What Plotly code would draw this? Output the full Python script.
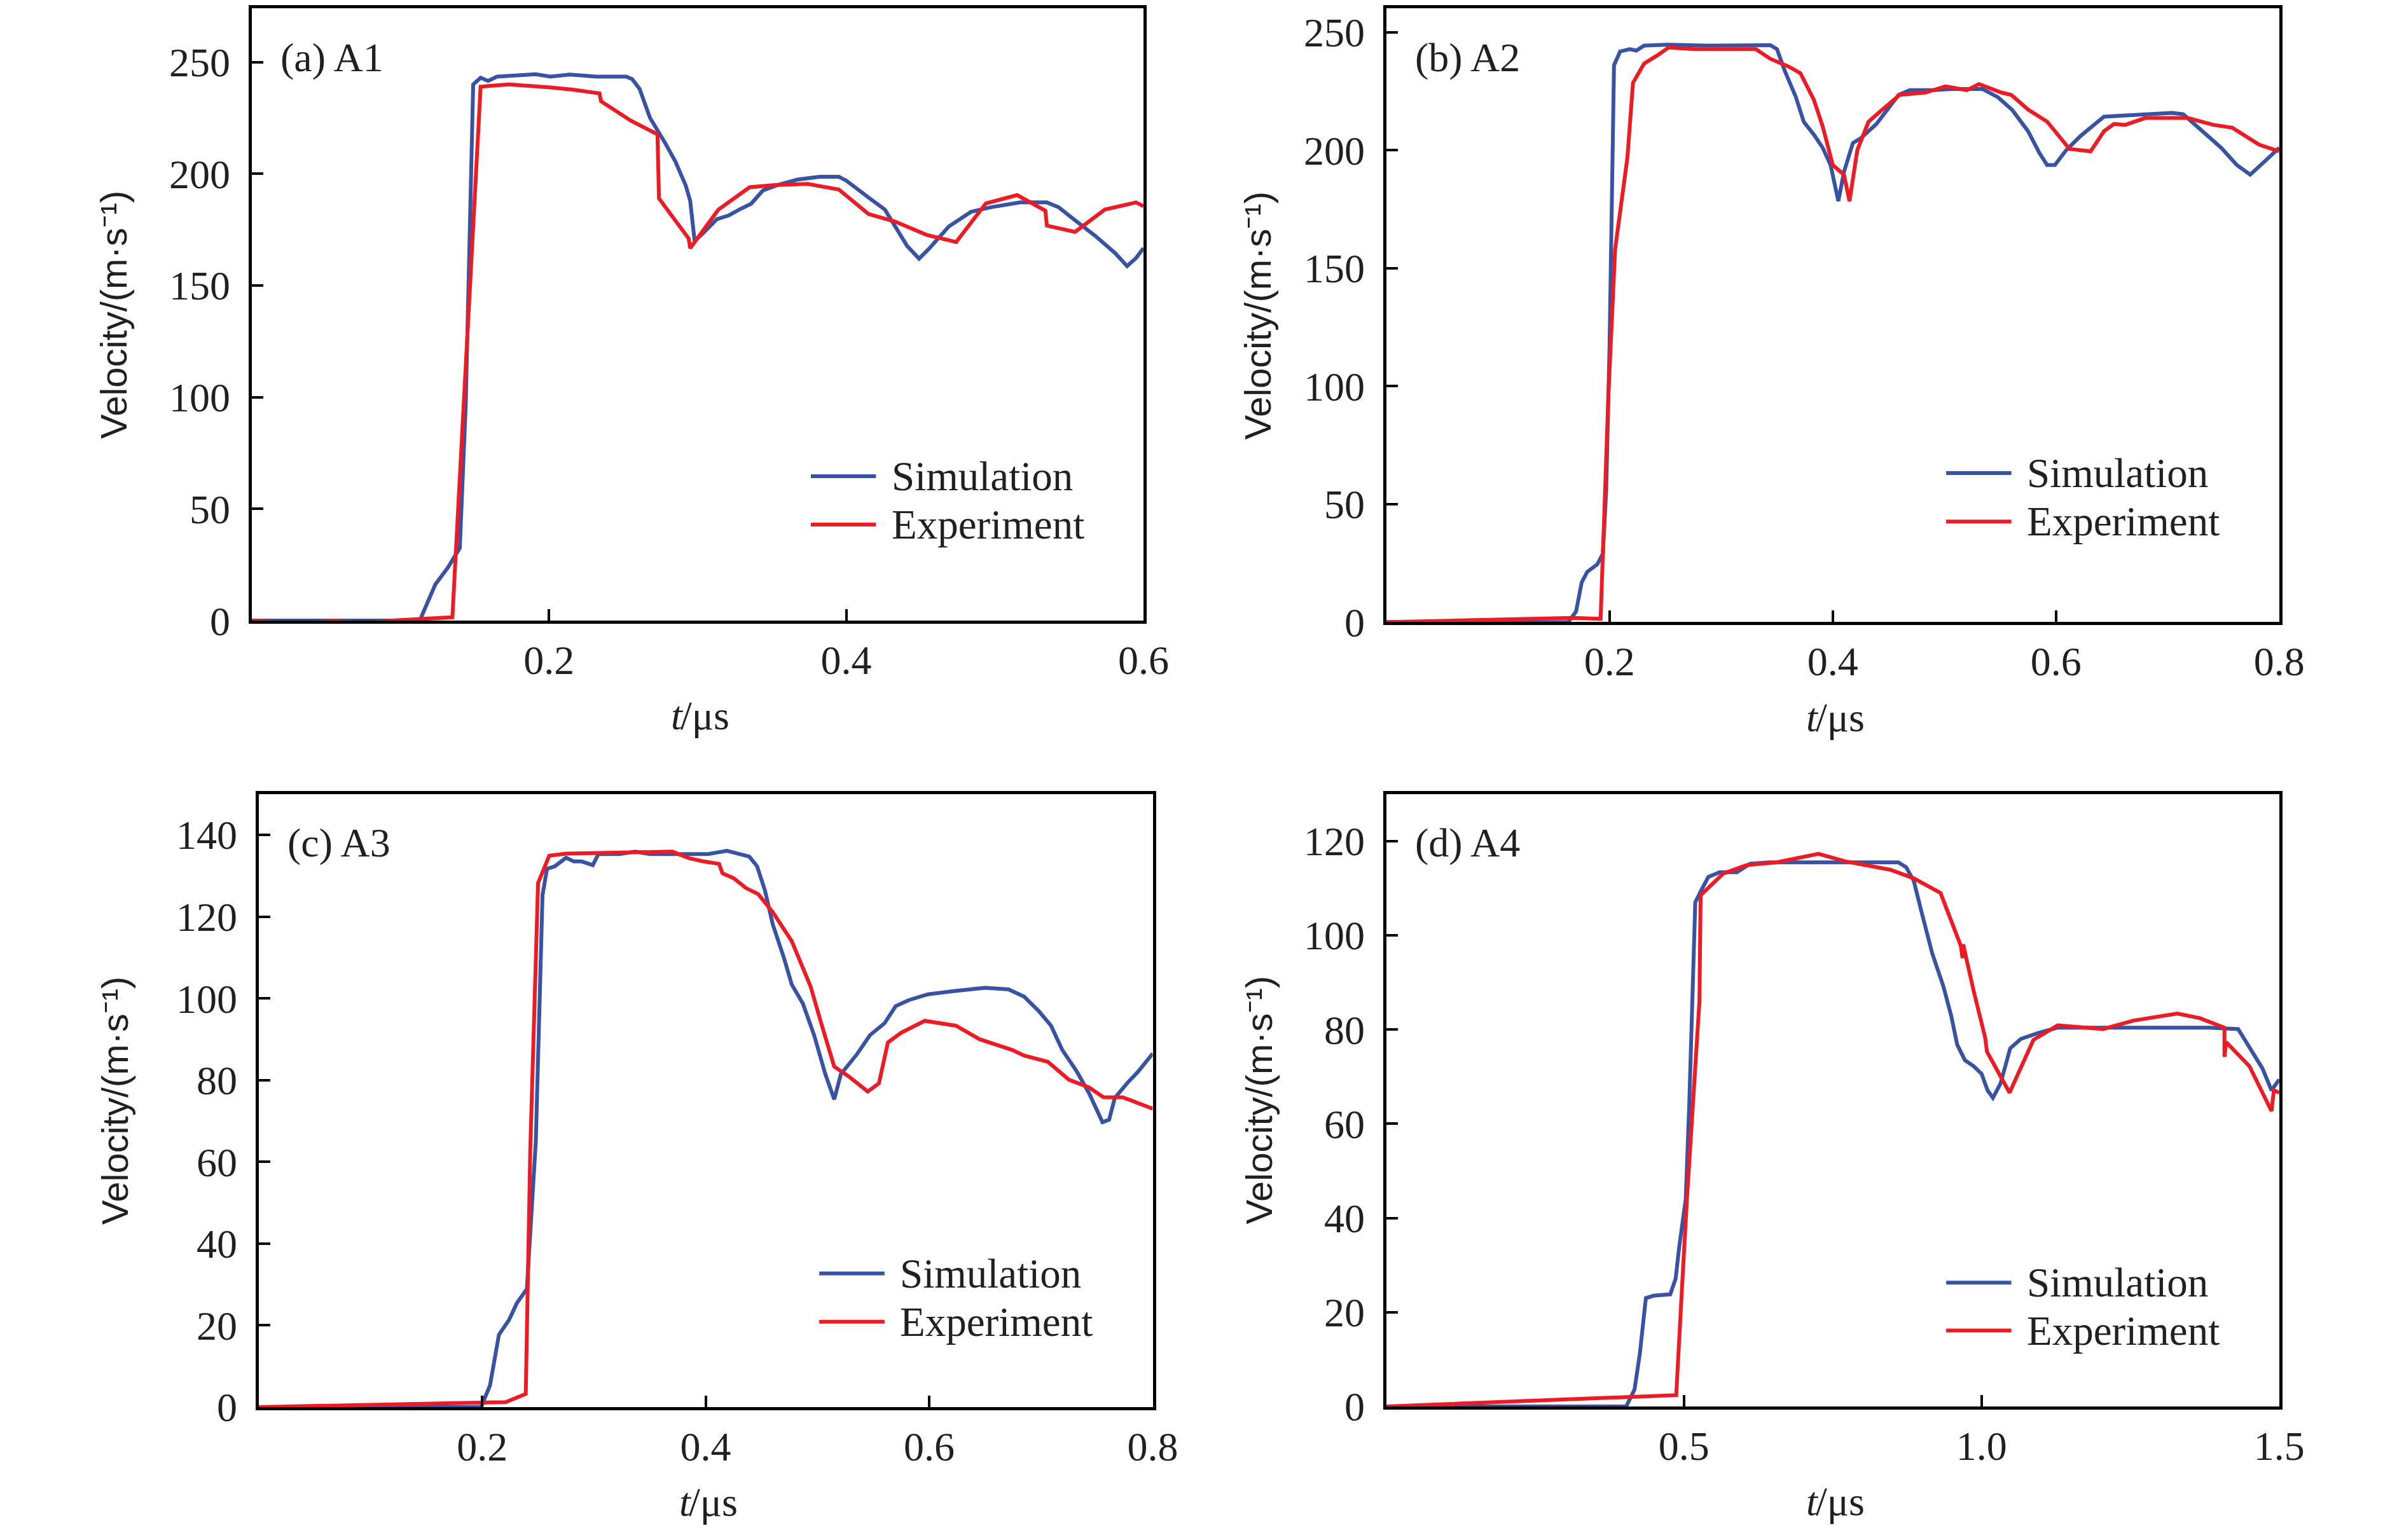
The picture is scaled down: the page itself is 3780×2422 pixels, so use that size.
import plotly.graph_objects as go
from plotly.subplots import make_subplots

# (a) A1
a_sim_t = [0, 0.113, 0.1235, 0.132, 0.140, 0.144, 0.149, 0.154, 0.159, 0.165, 0.191, 0.201, 0.214, 0.232, 0.252,
           0.256, 0.261, 0.268, 0.278, 0.285, 0.292, 0.295, 0.298, 0.303, 0.313, 0.321, 0.328, 0.336, 0.344, 0.354,
           0.367, 0.382, 0.395, 0.400, 0.415, 0.426, 0.433, 0.441, 0.449, 0.456, 0.469, 0.484, 0.497, 0.517, 0.535,
           0.543, 0.553, 0.568, 0.581, 0.589, 0.595, 0.600]
a_sim_v = [0, 0, 16.2, 23.8, 32.5, 97, 240, 243, 241.6, 243.5, 244.6, 243.5, 244.4, 243.5, 243.5,
           242.4, 238, 225, 214, 205.6, 194.8, 188, 170, 173, 179.7, 181.4, 184, 186.6, 192.6, 195,
           197.4, 198.7, 198.7, 197, 189.4, 184, 176.4, 167.7, 162, 166.7, 176.4, 183, 185, 187.2, 187.2,
           185, 179.7, 172, 164.5, 158.7, 162.3, 166.7]
a_exp_t = [0, 0.035, 0.055, 0.076, 0.094, 0.114, 0.135, 0.154, 0.173, 0.201, 0.216, 0.234, 0.235, 0.255, 0.273,
           0.274, 0.294, 0.295, 0.314, 0.335, 0.352, 0.374, 0.395, 0.415, 0.433, 0.454, 0.474, 0.494, 0.515, 0.534,
           0.535, 0.554, 0.574, 0.595, 0.600]
a_exp_v = [0, -1.5, 0, -1.5, 0, 0.9, 1.5, 239, 240, 238.7, 237.7, 236, 232.5, 223.8, 217.7,
           189, 171, 166.7, 184, 194, 195, 195.5, 193, 182, 178.6, 172.7, 169.5, 186.8, 190.5, 183.5,
           176.8, 174, 184, 187.2, 185.5]

# (b) A2
b_sim_t = [0, 0.163, 0.170, 0.175, 0.180, 0.189, 0.194, 0.197, 0.200, 0.204, 0.2095, 0.218, 0.224, 0.231, 0.252,
           0.289, 0.344, 0.350, 0.357, 0.367, 0.374, 0.383, 0.391, 0.398, 0.405, 0.410, 0.418, 0.425, 0.439, 0.459,
           0.469, 0.490, 0.507, 0.534, 0.548, 0.561, 0.575, 0.585, 0.592, 0.599, 0.609, 0.622, 0.643, 0.670, 0.704,
           0.714, 0.731, 0.748, 0.762, 0.774, 0.786, 0.800]
b_sim_v = [0, 0, 4.5, 16.8, 21.3, 24.5, 29, 55.6, 117, 236, 241.8, 242.8, 242.2, 244.3, 244.7,
           244.3, 244.5, 242.8, 233.6, 222.4, 212, 206.6, 201, 193.7, 178.4, 190.7, 203, 205, 211, 223.4,
           225.4, 225.4, 225.9, 225.9, 222.4, 216.9, 208, 198.9, 193.7, 193.7, 199.9, 206, 214.2, 214.8, 215.8,
           215.2, 208, 201, 193.7, 189.6, 194.8, 201]
b_exp_t = [0, 0.167, 0.192, 0.199, 0.205, 0.211, 0.216, 0.221, 0.231, 0.243, 0.253, 0.276, 0.331, 0.344, 0.361,
           0.371, 0.383, 0.391, 0.400, 0.410, 0.415, 0.422, 0.432, 0.442, 0.460, 0.483, 0.501, 0.520, 0.531, 0.551,
           0.560, 0.575, 0.592, 0.612, 0.631, 0.643, 0.652, 0.662, 0.680, 0.718, 0.741, 0.758, 0.782, 0.800]
b_exp_v = [0, 1.8, 1.4, 96.6, 158, 179.4, 196.8, 228.5, 236.7, 240.2, 243.5, 242.8, 242.8, 238.7, 235.3,
           232.6, 221.4, 210, 193.7, 189.6, 178.4, 200, 212, 216.2, 223.4, 224.4, 227, 225.4, 228, 224.4,
           223.4, 217.2, 212.1, 200.5, 199.5, 208, 211.1, 210.7, 213.6, 213.6, 210.7, 209.5, 202.3, 199.5]

# (c) A3
c_sim_t = [0, 0.199, 0.207, 0.215, 0.224, 0.231, 0.240, 0.243, 0.248, 0.254, 0.258, 0.265, 0.275, 0.282, 0.289,
           0.299, 0.304, 0.323, 0.337, 0.350, 0.371, 0.402, 0.419, 0.432, 0.439, 0.446, 0.453, 0.460, 0.470, 0.477,
           0.487, 0.497, 0.507, 0.515, 0.521, 0.535, 0.547, 0.560, 0.570, 0.582, 0.599, 0.623, 0.650, 0.671, 0.685,
           0.698, 0.709, 0.719, 0.732, 0.743, 0.755, 0.761, 0.766, 0.777, 0.787, 0.800]
c_sim_v = [0, 0, 5.3, 17.7, 21.3, 25.4, 28.9, 43.7, 65, 125.2, 131.7, 132.3, 134.4, 133.5, 133.5,
           132.6, 135.3, 135.3, 135.9, 135.3, 135.3, 135.3, 136.1, 135.3, 134.7, 132.3, 126.4, 118.1, 109.9, 103.4,
           98.7, 91, 81.5, 75.3, 81.5, 86.2, 91, 93.9, 98.1, 99.6, 101, 101.8, 102.6, 102.2, 100.4,
           96.9, 93.3, 87.4, 82.1, 76.8, 69.7, 70.3, 75.6, 79.2, 82.1, 86.5]
c_exp_t = [0, 0.221, 0.239, 0.243, 0.250, 0.260, 0.275, 0.309, 0.370, 0.385, 0.398, 0.412, 0.415, 0.425, 0.436,
           0.447, 0.460, 0.477, 0.494, 0.504, 0.515, 0.528, 0.545, 0.555, 0.563, 0.575, 0.596, 0.624, 0.645, 0.674,
           0.685, 0.706, 0.725, 0.743, 0.756, 0.773, 0.800]
c_exp_v = [0, 1.2, 3.2, 62.6, 128.2, 134.9, 135.4, 135.6, 135.9, 134.3, 133.5, 132.9, 130.6, 129.4, 127,
           125.5, 121.1, 114, 102.8, 93.3, 83.3, 80.9, 77.2, 79.2, 89.2, 91.6, 94.5, 93.3, 90, 87.4,
           86, 84.5, 80.1, 78.2, 75.8, 75.8, 73]

# (d) A4
d_sim_t = [0, 0.403, 0.417, 0.426, 0.436, 0.449, 0.477, 0.486, 0.492, 0.503, 0.509, 0.515, 0.519, 0.528, 0.541,
           0.560, 0.589, 0.611, 0.643, 0.694, 0.860, 0.873, 0.886, 0.898, 0.917, 0.936, 0.949, 0.959, 0.972, 0.987,
           1.000, 1.010, 1.019, 1.032, 1.048, 1.066, 1.096, 1.128, 1.204, 1.383, 1.431, 1.453, 1.472, 1.487, 1.500]
d_sim_v = [0, 0, 3.6, 11.3, 23, 23.5, 23.8, 27.1, 33.8, 44, 64.5, 92.1, 107, 109.3, 112.4,
           113.4, 113.4, 115.2, 115.5, 115.5, 115.5, 114.5, 111.6, 105.5, 96.2, 89.1, 82.9, 76.8, 73.5, 72.2,
           70.6, 67.1, 65.5, 68.6, 76, 78, 79.3, 80.4, 80.4, 80.4, 80.1, 75.6, 71.7, 67.1, 69.4]
d_exp_t = [0, 0.487, 0.496, 0.505, 0.526, 0.528, 0.566, 0.605, 0.656, 0.726, 0.771, 0.809, 0.847, 0.886, 0.931,
           0.965, 0.968, 0.969, 0.987, 1.006, 1.009, 1.047, 1.087, 1.128, 1.204, 1.255, 1.329, 1.367, 1.408, 1.408,
           1.411, 1.450, 1.487, 1.491, 1.500]
d_exp_v = [0, 2.4, 23.5, 44, 86, 108.5, 113.1, 114.9, 115.5, 117.3, 115.7, 114.7, 113.9, 112.1, 109,
           97.8, 95.2, 98.1, 88, 78.3, 75.3, 66.6, 77.8, 80.9, 80.1, 81.9, 83.4, 82.4, 80.4, 74.2,
           77.3, 72.2, 62.7, 67.1, 66.6]

panel_labels = ["(a) A1", "(b) A2", "(c) A3", "(d) A4"]
x_ticks = [[0.2, 0.4, 0.6], [0.2, 0.4, 0.6, 0.8], [0.2, 0.4, 0.6, 0.8], [0.5, 1.0, 1.5]]
x_ticktext = [["0.2", "0.4", "0.6"], ["0.2", "0.4", "0.6", "0.8"], ["0.2", "0.4", "0.6", "0.8"], ["0.5", "1.0", "1.5"]]
y_ticks = [[0, 50, 100, 150, 200, 250], [0, 50, 100, 150, 200, 250],
           [0, 20, 40, 60, 80, 100, 120, 140], [0, 20, 40, 60, 80, 100, 120]]
x_ranges = [[0, 0.6], [0, 0.8], [0, 0.8], [0, 1.5]]
y_ranges = [[0, 274], [0, 260], [0, 150], [0, 130]]

sim_t = [a_sim_t, b_sim_t, c_sim_t, d_sim_t]
sim_v = [a_sim_v, b_sim_v, c_sim_v, d_sim_v]
exp_t = [a_exp_t, b_exp_t, c_exp_t, d_exp_t]
exp_v = [a_exp_v, b_exp_v, c_exp_v, d_exp_v]

BLUE = "#3953A4"
RED = "#ED1C24"
INK = "#231F20"
SERIF = "Liberation Serif"

# panel boxes in paper coords (x0, x1, y0, y1)
doms = [(0.1037, 0.4786, 0.595, 0.999), (0.5807, 0.9561, 0.594, 0.999),
        (0.1066, 0.4825, 0.076, 0.4806), (0.5807, 0.9561, 0.0764, 0.4806)]
# legend rows (y in axis-domain fraction) and y-title offsets
leg_y = [(0.236, 0.157), (0.243, 0.164), (0.218, 0.139), (0.202, 0.124)]
ytitle_dx = [-0.155, -0.144, -0.161, -0.143]

fig = make_subplots(rows=2, cols=2)

for i in range(4):
    r, c = i // 2 + 1, i % 2 + 1
    fig.add_trace(go.Scatter(x=sim_t[i], y=sim_v[i], mode="lines", name="Simulation",
                             line=dict(color=BLUE, width=6), showlegend=False), row=r, col=c)
    fig.add_trace(go.Scatter(x=exp_t[i], y=exp_v[i], mode="lines", name="Experiment",
                             line=dict(color=RED, width=6), showlegend=False), row=r, col=c)

    sfx = "" if i == 0 else str(i + 1)
    x0, x1, y0, y1 = doms[i]
    fig.update_layout(**{
        "xaxis" + sfx: dict(domain=[x0, x1], range=x_ranges[i], tickvals=x_ticks[i], ticktext=x_ticktext[i],
                            showline=True, mirror=True, linecolor="black", linewidth=5,
                            ticks="inside", ticklen=18, tickwidth=4, tickcolor="black",
                            ticklabelstandoff=2, showgrid=False, zeroline=False,
                            tickfont=dict(family=SERIF, size=64, color=INK)),
        "yaxis" + sfx: dict(domain=[y0, y1], range=y_ranges[i], tickvals=y_ticks[i],
                            showline=True, mirror=True, linecolor="black", linewidth=5,
                            ticks="inside", ticklen=18, tickwidth=4, tickcolor="black",
                            ticklabelstandoff=16, showgrid=False, zeroline=False,
                            tickfont=dict(family=SERIF, size=64, color=INK)),
    })

    xd = "x" + sfx + " domain"
    yd = "y" + sfx + " domain"
    # panel label
    fig.add_annotation(text=panel_labels[i], xref=xd, yref=yd, x=0.031, y=0.92,
                       xanchor="left", yanchor="middle", showarrow=False,
                       font=dict(family=SERIF, size=64, color=INK))
    # x title: italic t, then /μs
    fig.add_annotation(text="t", xref=xd, yref=yd, x=0.486, y=-0.155,
                       xanchor="right", yanchor="middle", showarrow=False,
                       font=dict(family=SERIF, size=64, color=INK, style="italic"))
    fig.add_annotation(text="/μs", xref=xd, yref=yd, x=0.486, y=-0.155, xshift=-9,
                       xanchor="left", yanchor="middle", showarrow=False,
                       font=dict(family=SERIF, size=64, color=INK))
    # y title
    fig.add_annotation(text="Velocity/(m·s⁻¹)", xref=xd, yref=yd, x=ytitle_dx[i], y=0.5,
                       xanchor="center", yanchor="middle", textangle=-90, showarrow=False,
                       font=dict(family="Liberation Sans", size=58, color=INK))
    # legend
    for name, col, yy in [("Simulation", BLUE, leg_y[i][0]), ("Experiment", RED, leg_y[i][1])]:
        fig.add_shape(type="line", xref=xd, yref=yd, x0=0.627, x1=0.700, y0=yy, y1=yy,
                      line=dict(color=col, width=6))
        fig.add_annotation(text=name, xref=xd, yref=yd, x=0.716, y=yy,
                           xanchor="left", yanchor="middle", showarrow=False,
                           font=dict(family=SERIF, size=65, color=INK))

fig.update_layout(width=3780, height=2422, margin=dict(l=0, r=0, t=0, b=0),
                  plot_bgcolor="white", paper_bgcolor="white", showlegend=False)

fig.write_html("out.html")
